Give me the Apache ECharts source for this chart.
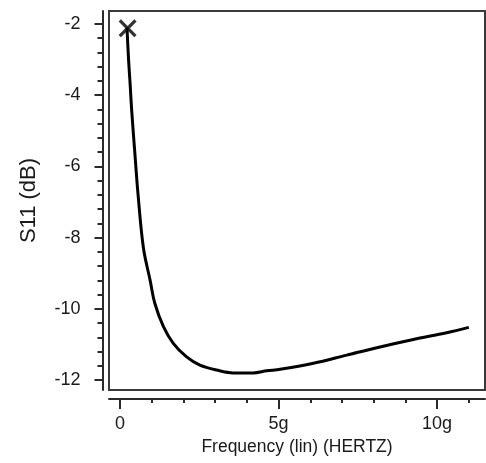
<!DOCTYPE html>
<html><head><meta charset="utf-8">
<script src="https://cdn.jsdelivr.net/npm/echarts@6/dist/echarts.min.js"></script>
<style>html,body{margin:0;padding:0;background:#fff}#c{width:486px;height:463px}</style>
</head><body><div id="c"></div>
<script>
// Frequency in GHz, S11 in dB
const freqGHz = [0.22, 0.27, 0.32, 0.37, 0.47, 0.57, 0.74, 0.95, 1.10, 1.37, 1.68, 2.10, 2.52, 3.05, 3.57, 4.20, 4.63, 5.05, 6.10, 7.15, 8.20, 9.25, 10.30, 11.00];
const s11dB   = [-2.1, -3.0, -3.7, -4.45, -5.65, -6.8, -8.3, -9.2, -9.85, -10.5, -10.97, -11.35, -11.58, -11.72, -11.8, -11.8, -11.74, -11.7, -11.53, -11.3, -11.07, -10.86, -10.67, -10.52];
const markerFreq = [0.24];
const markerS11 = [-2.12];

const xMajorTicks = [0, 5, 10];
const xTickLabels = ['0', '5g', '10g'];
const xMinorTicks = [1, 2, 3, 4, 6, 7, 8, 9, 11];
const yMajorTicks = [-12, -10, -8, -6, -4, -2];
const yTickLabels = ['-12', '-10', '-8', '-6', '-4', '-2'];
const yMinorTicks = [-11.6, -11.2, -10.8, -10.4, -9.6, -9.2, -8.8, -8.4, -7.6, -7.2, -6.8, -6.4, -5.6, -5.2, -4.8, -4.4, -3.6, -3.2, -2.8, -2.4];

const xName = 'Frequency (lin) (HERTZ)';
const yName = 'S11 (dB)';

const FONT = 'Liberation Sans, Arial, sans-serif';
const AX = '#2a2a2a';
const TXT = '#1a1a1a';
const X_MIN = -0.347, X_MAX = 11.51, Y_MIN = -12.28, Y_MAX = -1.635;

const chart = echarts.init(document.getElementById('c'), null, {renderer: 'canvas'});
chart.setOption({
  animation: false,
  backgroundColor: '#fff',
  grid: {left: 109, right: 1, top: 11, bottom: 73, show: true, borderColor: '#3a3a3a', borderWidth: 2, backgroundColor: 'transparent'},
  xAxis: [{
    type: 'value', min: X_MIN, max: X_MAX, position: 'bottom', offset: 9,
    axisLine: {onZero: false, lineStyle: {color: AX, width: 2}},
    axisTick: {customValues: xMajorTicks, length: 10, lineStyle: {color: AX, width: 2}},
    axisLabel: {customValues: xMajorTicks, formatter: v => xTickLabels[xMajorTicks.indexOf(Math.round(v))] || '', fontSize: 18, color: TXT, fontFamily: FONT, margin: 16},
    splitLine: {show: false},
    name: xName, nameLocation: 'middle', nameGap: 39,
    nameTextStyle: {fontSize: 17.5, color: TXT, fontFamily: FONT}
  }, {
    type: 'value', min: X_MIN, max: X_MAX, position: 'bottom', offset: 9,
    axisLine: {show: false, onZero: false},
    axisTick: {customValues: xMinorTicks, length: 4, lineStyle: {color: AX, width: 2}},
    axisLabel: {show: false},
    splitLine: {show: false}
  }],
  yAxis: [{
    type: 'value', min: Y_MIN, max: Y_MAX, position: 'left', offset: 6.5,
    axisLine: {onZero: false, lineStyle: {color: AX, width: 2}},
    axisTick: {customValues: yMajorTicks, length: 8, lineStyle: {color: AX, width: 2}},
    axisLabel: {customValues: yMajorTicks, formatter: v => yTickLabels[yMajorTicks.indexOf(Math.round(v))] || '', fontSize: 18, color: TXT, fontFamily: FONT, margin: 22, padding: [0, 0, 9, 0]},
    splitLine: {show: false},
    name: yName, nameLocation: 'middle', nameGap: 63, nameRotate: 90,
    nameTextStyle: {fontSize: 22, color: TXT, fontFamily: FONT}
  }, {
    type: 'value', min: Y_MIN, max: Y_MAX, position: 'left', offset: 6.5,
    axisLine: {show: false, onZero: false},
    axisTick: {customValues: yMinorTicks, length: 5, lineStyle: {color: AX, width: 2}},
    axisLabel: {show: false},
    splitLine: {show: false}
  }],
  series: [{
    type: 'line', xAxisIndex: 0, yAxisIndex: 0,
    data: freqGHz.map((f, i) => [f, s11dB[i]]),
    showSymbol: false, smooth: 0.35,
    lineStyle: {color: '#000', width: 3}
  }, {
    type: 'scatter', xAxisIndex: 0, yAxisIndex: 0,
    data: markerFreq.map((f, i) => [f, markerS11[i]]),
    symbol: 'path://M0,2.6 L2.6,0 L10,7.4 L17.4,0 L20,2.6 L12.6,10 L20,17.4 L17.4,20 L10,12.6 L2.6,20 L0,17.4 L7.4,10 Z',
    symbolSize: 18,
    itemStyle: {color: '#000'}
  }]
});
</script>
</body></html>
